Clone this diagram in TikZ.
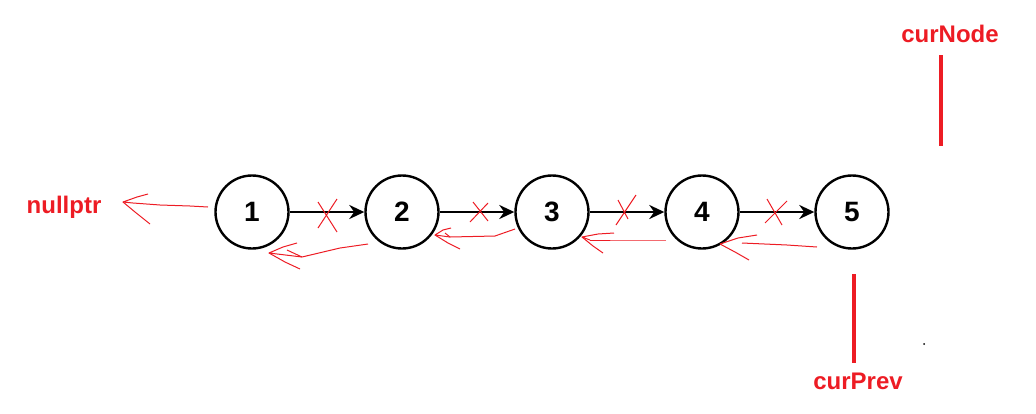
\documentclass[tikz,border=0pt]{standalone}
\usepackage{fontspec}
\setmainfont{Liberation Sans}
\usetikzlibrary{arrows.meta}
\definecolor{pen}{HTML}{ED1C24}
\tikzset{
  circ/.style={circle,draw=black,line width=2.4pt,minimum size=73pt,inner sep=0pt,font=\fontsize{28}{28}\selectfont\bfseries},
  link/.style={line width=2.6pt,-{Stealth[length=15pt,width=14pt]}},
  sketch/.style={draw=pen,line width=1pt,line join=round},
  marker/.style={draw=pen,line width=4pt},
  lbl/.style={text=pen,font=\fontsize{24}{24}\selectfont\bfseries,inner sep=0pt}
}
\begin{document}
\begin{tikzpicture}[x=1pt,y=-1pt]
\useasboundingbox (0,0) rectangle (1036,413);
\node[circ] (n1) at (252,212) {1};
\node[circ] (n2) at (402,212) {2};
\node[circ] (n3) at (552,212) {3};
\node[circ] (n4) at (702,212) {4};
\node[circ] (n5) at (852,212) {5};
\draw[link] (n1) -- (n2);
\draw[link] (n2) -- (n3);
\draw[link] (n3) -- (n4);
\draw[link] (n4) -- (n5);
% crosses
\draw[sketch] (318,228) -- (337,199) (318,202) -- (337,232);
\draw[sketch] (470,222) -- (488,203) (473,202) -- (488,221);
\draw[sketch] (616,225) -- (636,195) (618,200) -- (628,219);
\draw[sketch] (765,223) -- (787,201) (767,199) -- (782,225);
% labels
\node[lbl] (np) at (64,207) {nullptr};
\node[lbl] (cn) at (950,34) {curNode};
\node[lbl] (cp) at (858,381) {curPrev};
% markers
\coordinate (cnA) at (941,55);
\coordinate (cnB) at (941,146);
\coordinate (cpA) at (854,274);
\coordinate (cpB) at (854,363);
\draw[marker] (cnA) -- (cnB);
\draw[marker] (cpA) -- (cpB);
% hand-drawn back arrows
\draw[sketch] (208,207) -- (190,206) -- (160,205) -- (133,203) -- (123,202) -- (137,197) -- (148,194);
\draw[sketch] (123,202) -- (135,212) -- (150,224);
\draw[sketch] (368,244) -- (340,248) -- (302,257) -- (287,250);
\draw[sketch] (302,257) -- (269,253) -- (283,247) -- (297,243);
\draw[sketch] (269,253) -- (285,262) -- (300,269);
\draw[sketch] (515,229) -- (495,236) -- (450,237) -- (445,233);
\draw[sketch] (450,237) -- (435,235) -- (443,230) -- (451,228);
\draw[sketch] (435,235) -- (448,243) -- (460,249);
\draw[sketch] (666,240) -- (630,240) -- (590,240);
\draw[sketch] (590,240) -- (582,237) -- (598,234) -- (614,233);
\draw[sketch] (582,237) -- (593,246) -- (603,253);
\draw[sketch] (817,247) -- (787,245) -- (742,243);
\draw[sketch] (720,244) -- (738,238) -- (757,235);
\draw[sketch] (720,244) -- (735,252) -- (749,260);
\fill[black] (924,344) circle (1pt);
\end{tikzpicture}
\end{document}
